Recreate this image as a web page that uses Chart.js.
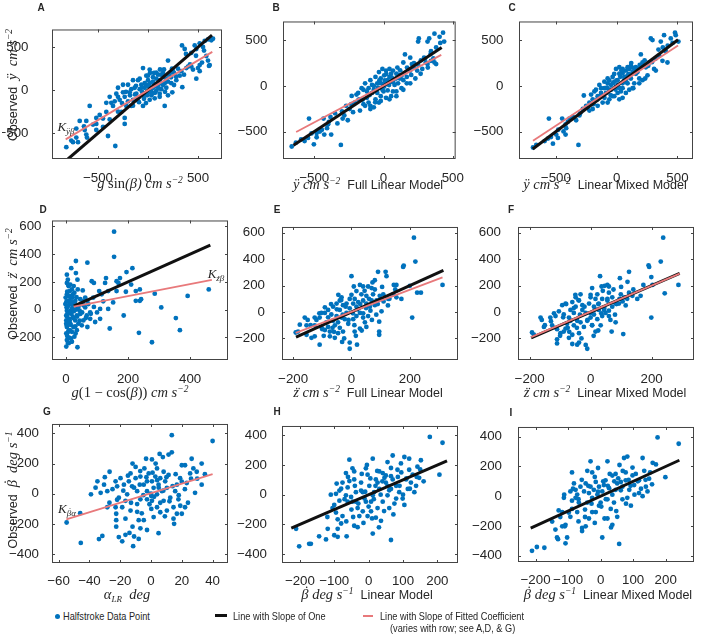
<!DOCTYPE html>
<html>
<head>
<meta charset="utf-8">
<script src="https://cdn.jsdelivr.net/npm/chart.js@4.4.0/dist/chart.umd.min.js"></script>
<style>
body { margin: 0; background: #fff; }
#fig { position: relative; width: 716px; height: 641px; overflow: hidden; font-family: "Liberation Sans", Arial, sans-serif; color: #262626; }
canvas { position: absolute; }
.t { position: absolute; transform: translate(-50%, -50%); white-space: nowrap; font-size: 12.5px; z-index: 5; }
.yl { position: absolute; transform: translate(-50%, -50%) rotate(-90deg); white-space: nowrap; font-size: 12.5px; z-index: 5; }
.m { font-family: "Liberation Serif", "Times New Roman", serif; font-style: italic; font-size: 14.5px; }
.up { font-style: normal; }
.acc { position: relative; display: inline-block; }
.acc > b { position: absolute; left: 0.12em; right: -0.12em; top: 0.02em; text-align: center; font-weight: normal; font-style: normal; }
.acc.tall > b { top: -0.2em; }
.lt { position: absolute; transform: translate(-50%, -50%); font-weight: bold; font-size: 10px; z-index: 5; }
sup { font-size: 9.5px; vertical-align: 5px; line-height: 0; }
sub { font-size: 9px; vertical-align: -3px; line-height: 0; }
.lg { position: absolute; transform: translateY(-50%) scaleX(0.8); transform-origin: left center; white-space: nowrap; font-size: 11.5px; z-index: 5; }
.mk { position: absolute; z-index: 5; }
</style>
</head>
<body>
<div id="fig"></div>
<script>
// tick values
const ticks500 = [-500, 0, 500];
const ticksZ_y = [-200, 0, 200, 400, 600];
const ticksD_x = [0, 200, 400];
const ticksEF_x = [-200, 0, 200];
const ticksB_y = [-400, -200, 0, 200, 400];
const ticksG_x = [-60, -40, -20, 0, 20, 40];
const ticksHI_x = [-200, -100, 0, 100, 200];

// Row 1 - lateral acceleration (x = predictor, y = observed)
const ptsA = [[340,520],[367,478],[467,520],[517,544],[567,572],[600,590],[633,580],[650,597],[483,477],[550,502],[433,432],[200,344],[250,221],[333,221],[383,256],[433,274],[500,256],[517,291],[583,397],[600,344],[617,291],[610,281],[483,133],[343,35],[317,168],[243,-25],[200,-60],[167,-183],[117,-42],[83,204],[17,239],[-50,256],[0,168],[-83,133],[-150,116],[-200,63],[-250,63],[-300,28],[-317,-42],[-383,-77],[-417,-147],[-367,-147],[-283,-112],[-233,-77],[-183,-25],[-117,-42],[-83,11],[-33,28],[17,81],[50,98],[83,133],[117,116],[150,151],[183,133],[167,81],[100,63],[50,28],[0,-25],[-50,-60],[-100,-95],[-150,-112],[-217,-183],[-267,-253],[-350,-183],[-417,-253],[-483,-288],[-517,-323],[-583,-183],[-517,-393],[-617,-358],[-683,-358],[-717,-446],[-633,-463],[-617,-516],[-700,-604],[-750,-604],[-767,-586],[-817,-663],[-717,-551],[-610,-551],[-517,-463],[-450,-428],[-383,-340],[-400,-533],[-327,-649],[-233,-393],[-233,-323],[-117,-112],[33,-60],[83,-7],[133,11],[183,28],[233,81],[283,116],[0,116],[50,151],[-33,81],[-67,63],[-133,28],[-167,11],[-250,-25],[-300,-77],[-333,-130],[-167,-183],[-50,-183],[17,-112],[67,-95],[117,-77],[-17,168],[-100,116],[400,274],[450,239],[517,221],[100,180],[150,200],[200,180],[230,150],[120,240],[60,200],[-20,60],[30,-10],[-60,-20],[260,60],
  [-200,-130],[-180,-60],[-130,-50],[-90,-140],[-60,30],[-40,-100],[-10,-60],[10,40],[40,-40],[60,70],[70,-30],[90,40],[110,20],[130,80],[150,60],[170,-20],[200,100],[220,200],[260,200],[280,160],[300,250],[-260,-150],[-220,-20],[-150,-180],[-120,50],[-20,-150],[20,200],[130,180],[160,240],[240,250],[360,180],[420,300],[-300,-250],[-450,-330],[-550,-400],[-640,-420],[380,420],[480,400],[560,460],[540,320]];
const ptsB = [[-663,-663],[-633,-621],[-595,-586],[-570,-604],[-545,-569],[-538,-358],[-503,-639],[-483,-562],[-483,-516],[-445,-481],[-433,-358],[-428,-533],[-408,-463],[-395,-393],[-378,-533],[-383,-340],[-333,-411],[-308,-646],[-295,-358],[-283,-323],[-258,-376],[-245,-253],[-220,-288],[-208,-183],[-195,-95],[-170,-147],[-145,-200],[-133,-218],[-120,-130],[-108,-183],[-95,-218],[-83,-77],[-70,-42],[-58,-147],[-45,-77],[-33,-183],[-20,-112],[-8,-42],[5,-7],[18,28],[30,63],[43,98],[55,133],[68,168],[93,133],[118,81],[143,63],[168,98],[155,344],[193,168],[218,204],[243,168],[268,133],[280,186],[318,239],[343,274],[368,256],[293,309],[255,520],[250,485],[318,485],[330,520],[368,572],[405,537],[430,583],[438,485],[380,239],[343,379],[305,256],[168,28],[130,-25],[93,-60],[55,-112],[18,-130],[-20,-165],[43,-147],[93,-112],[143,-42],[80,11],[55,46],[5,116],[-20,81],[-45,28],[-83,11],[-108,-25],[-145,-42],[-183,-77],[-8,186],[18,168],[43,186],[-33,151],[-58,98],[-95,63],[-133,28],[-158,-25],[-70,-235],[-95,-253],[-170,-270],[-233,-200],[-270,-218],[68,-60],[105,28],[193,28],[230,81],[205,239],[143,256],[193,309],
  [-150,-150],[-120,-60],[-100,-100],[-60,-180],[-40,-20],[-20,30],[0,-60],[10,60],[30,-50],[40,10],[60,90],[70,40],[90,80],[110,120],[120,170],[130,110],[150,140],[170,200],[200,120],[220,250],[250,230],[270,280],[300,300],[320,200],[-180,-150],[-230,-110],[-300,-280],[-350,-300],[-400,-420],[-460,-500],[-520,-520],[340,350],[360,300],[380,420],[410,470],[-30,60],[20,130],[100,200],[-70,0],[0,20]];
const ptsC = [[-688,-674],[-661,-646],[-592,-604],[-565,-576],[-557,-358],[-524,-632],[-497,-533],[-483,-569],[-448,-358],[-437,-498],[-420,-533],[-415,-463],[-401,-393],[-388,-358],[-333,-376],[-314,-646],[-306,-323],[-278,-253],[-270,-105],[-251,-218],[-224,-183],[-210,-95],[-197,-147],[-183,-60],[-156,-112],[-142,11],[-128,-77],[-101,-25],[-87,-77],[-74,28],[-60,-42],[-46,11],[-33,98],[-33,-112],[-19,46],[-5,-7],[8,63],[22,133],[35,-60],[49,28],[63,98],[76,168],[90,116],[104,186],[117,81],[131,151],[145,28],[158,133],[172,186],[186,81],[199,344],[213,256],[240,204],[254,116],[268,256],[281,520],[295,502],[322,168],[344,397],[363,485],[390,555],[418,256],[404,379],[377,274],[445,520],[480,583],[486,555],[508,485],[137,-25],[104,-42],[76,-77],[49,-130],[22,-147],[8,-77],[-19,-112],[-60,-147],[-74,-183],[-115,-183],[-156,-218],[-197,-253],[-224,-270],[-5,186],[22,204],[49,186],[90,204],[117,221],[158,204],[186,28],[213,63],[235,81],[-74,81],[-101,46],[-128,-25],[-170,-42],[-46,-42],[49,-25],[90,28],[131,-25],[308,186],
  [-160,-150],[-130,-110],[-100,-130],[-80,-20],[-50,-100],[-30,30],[-10,-40],[0,60],[20,-20],[30,100],[50,140],[60,60],[80,40],[100,130],[110,90],[130,200],[150,170],[170,150],[190,230],[210,210],[230,280],[260,220],[290,260],[320,300],[-190,-200],[-240,-240],[-300,-300],[-360,-340],[-420,-420],[-480,-480],[-540,-560],[350,330],[380,420],[420,440],[460,470],[-20,130],[40,170],[120,250],[-60,60],[10,10]];

// Row 2 - vertical acceleration
const ptsD = [[155,562],[155,381],[32,351],[69,339],[17,299],[32,264],[3,252],[37,216],[3,193],[83,205],[90,193],[129,228],[163,205],[169,193],[174,228],[195,271],[214,299],[210,181],[163,134],[126,193],[107,134],[193,129],[225,134],[238,146],[225,64],[238,64],[242,75],[286,115],[307,16],[354,-61],[367,-148],[392,99],[460,146],[235,-167],[277,-235],[186,-42],[141,-136],[110,-66],[94,-89],[78,-66],[69,-125],[56,64],[46,75],[62,87],[88,87],[115,111],[136,134],[136,5],[152,52],[110,5],[62,16],[44,-7],[35,-42],[30,-78],[40,-101],[35,-148],[37,-271],[27,-195],[19,-160],[9,-242],[3,-219],[1,-172],[3,-125],[1,-78],[5,-31],[2,16],[9,64],[3,111],[12,134],[14,87],[19,40],[16,-7],[22,-54],[14,-101],[9,-148],[16,-207],[24,-125],[30,64],[27,122],[19,146],[9,169],[6,216],[46,-31],[56,-78],[51,-113],[67,-42],[78,-19],[3,-7],[1,-42],[11,-66],[18,-31],[6,-89],[1,-266],[10,-201],[19,-231],[31,-172],[-2,40],[-1,87],[12,40],[21,87],[35,28],[51,40],[69,64],[14,181],[38,146],[54,139],
  [2,-110],[4,-190],[6,-30],[8,30],[10,100],[12,-80],[14,-150],[16,60],[18,-230],[20,10],[22,110],[24,-60],[26,-10],[28,50],[30,-120],[32,0],[34,90],[36,-50],[40,20],[44,-80],[48,40],[52,-20],[58,30],[64,-60],[72,40],[80,-30],[90,20],[100,-20],[120,60],[2,60],[4,130],[6,-240],[8,-160],[3,-50],[5,20],[7,180],[1,-100],[11,-20],[15,-110],[25,170]];
const ptsE = [[214,562],[219,381],[177,341],[179,351],[91,304],[117,304],[120,271],[0,271],[145,205],[154,205],[80,240],[72,224],[57,193],[40,193],[8,193],[200,198],[225,146],[238,146],[312,205],[208,-42],[103,5],[95,-73],[95,-148],[95,-172],[19,-247],[-6,-231],[-32,-226],[-6,-278],[-109,-247],[-154,-172],[-137,-195],[-126,-184],[-183,-148],[-191,-155],[-160,-42],[-154,-101],[-126,-101],[-109,-42],[-103,-7],[-91,35],[-86,-78],[-74,-148],[-69,-19],[-63,40],[-51,64],[-40,87],[-34,111],[-17,64],[-17,-7],[-6,28],[6,64],[11,99],[23,75],[34,134],[40,87],[51,122],[63,40],[69,87],[74,134],[86,87],[97,122],[109,134],[126,99],[143,134],[154,111],[171,99],[-40,16],[-51,-31],[-63,-66],[-80,-113],[-91,-136],[-103,-113],[-57,-101],[-46,-78],[-34,-42],[-23,-54],[-11,-89],[6,-54],[17,-31],[29,-7],[40,-42],[46,-78],[51,-113],[57,-31],[29,-125],[11,-148],[-29,-148],[-46,-160],[-74,-184],[-57,-195],[-91,-7],[-126,-42],[-80,16],[-29,52],[-6,99],[17,158],[29,205],[69,181],[51,64],[80,52],[17,40],[-177,-96],
  [-120,-60],[-100,-130],[-80,-40],[-70,60],[-60,-150],[-50,20],[-40,-120],[-30,-20],[-20,40],[-10,-60],[0,130],[10,-100],[20,20],[30,60],[40,-10],[50,30],[60,100],[70,-60],[80,170],[90,60],[100,100],[110,80],[130,100],[150,170],[-140,-100],[-150,-60],[-110,-10],[-95,-180],[-45,130],[-25,-200],[15,-180],[35,-140],[45,160],[65,10],[85,-20],[105,190],[125,50],[-65,-120],[-35,90],[5,-10]];
const ptsF = [[238,562],[230,381],[190,353],[192,341],[126,304],[96,256],[121,228],[31,271],[36,193],[46,198],[55,205],[173,205],[199,264],[203,205],[288,205],[243,141],[199,-42],[107,-167],[69,-148],[82,-78],[-11,-278],[-16,-249],[-44,-247],[-38,-231],[-60,-242],[-110,-207],[-110,-238],[-186,-172],[-192,-155],[-164,-42],[-153,-113],[-126,-101],[-115,-31],[-104,5],[-93,52],[-82,64],[-82,-125],[-71,-42],[-66,16],[-60,75],[-49,111],[-38,87],[-33,134],[-27,52],[-16,-7],[-5,64],[0,111],[5,181],[11,40],[16,99],[22,134],[27,64],[38,99],[44,16],[55,87],[60,146],[71,111],[82,64],[99,134],[110,111],[126,146],[137,122],[153,99],[164,122],[-55,-7],[-66,-66],[-77,-89],[-88,-148],[-99,-160],[-55,-101],[-44,-66],[-33,-78],[-22,-113],[-11,-66],[0,-42],[11,-19],[22,-54],[33,-101],[38,-31],[49,-7],[60,-31],[-38,-160],[-60,-172],[-71,-195],[16,-148],[-27,16],[-49,40],[-88,-19],[-132,-42],[5,-101],[27,16],[71,40],[93,64],[60,193],
  [-130,-70],[-110,-130],[-90,-40],[-80,60],[-70,-150],[-55,30],[-45,-120],[-35,-20],[-20,40],[-10,-60],[0,130],[5,-100],[15,20],[25,60],[35,-10],[45,30],[55,100],[65,-60],[75,170],[85,60],[95,100],[105,80],[120,100],[140,170],[-150,-100],[-160,-60],[-120,-10],[-100,-180],[-50,130],[-30,-200],[10,-180],[25,-140],[40,160],[60,10],[80,-20],[100,190],[115,50],[-75,-120],[-40,90],[0,-10]];

// Row 3 - yaw rate
const ptsG = [[40,350],[13.5,389],[13.5,275],[11.4,260],[5.6,264],[7.7,243],[-3.2,232],[0.6,228],[-26.9,146],[-34.8,82],[-39,-4],[-30.5,60],[-32.7,6],[-28.4,17],[-23,82],[-22,49],[-20.9,-26],[-23,-90],[-28.4,-90],[-22.6,-133],[-22.6,-176],[-22.6,-219],[-20.9,-288],[-18.7,-316],[-16.6,-273],[-16.6,-166],[-13.3,-112],[-12,-219],[-11,-284],[-11.6,-348],[-31.6,-280],[-33.8,-301],[-45.6,-327],[-46,-129],[-54.8,-191],[-9,-69],[-8,-176],[-6.9,-230],[-4.7,-176],[-2.6,-241],[4.9,-262],[-9,17],[-10,103],[-10,178],[-6.9,114],[-4.7,60],[-2.6,82],[-1.5,135],[0.6,82],[1.7,39],[2.8,114],[3.9,-4],[4.9,60],[6,103],[7.1,17],[8.2,-47],[9.2,82],[10.3,39],[11.4,125],[12.5,-26],[14.6,-90],[16.8,60],[15.7,17],[18.9,103],[20,189],[22.1,189],[23.2,71],[25.4,135],[26.4,232],[27.5,168],[28.6,6],[29.7,146],[32.9,200],[32.9,60],[16.8,-133],[14.6,-166],[22.1,-90],[17.8,-37],[10.3,-112],[3.9,-90],[0.6,-47],[-2.6,-37],[-6.9,-37],[-15.5,-4],[-17.6,60],[-19.8,103],[-14.4,82],[-13.3,135],[-12.3,49],[-16.6,-47],[-18.7,-90],[0.2,-101],[6,-123],[1.7,-155],[20,-133],[-2.6,17],[0.2,-15],[3.9,168],[8.2,146],[-4.3,168],[-7.3,60],
  [-18,20],[-15,120],[-13,-60],[-11,40],[-9,-120],[-7,150],[-5,-10],[-3,110],[-1,-70],[1,140],[2,-20],[4,90],[6,-60],[8,20],[10,110],[12,-50],[14,50],[16,130],[18,-10],[20,80],[22,30],[24,-60],[26,100],[-22,-40],[-25,30],[-27,-60],[-12,200],[-6,-130],[3,200],[9,-150],[15,-200],[19,-80],[-14,-260],[-8,-300],[30,100],[35,130],[-36,40],[-30,110],[0,0],[5,40]];
const ptsH = [[178,389],[215,350],[-211,-230],[-202,-348],[-173,-331],[-168,-331],[-144,-280],[-124,-301],[-100,-273],[-90,-284],[-64,-280],[-119,-230],[-90,-230],[-90,-166],[-80,-194],[-105,-90],[-100,-69],[-95,6],[-85,28],[-93,75],[-66,-4],[-56,92],[-56,236],[-47,178],[-42,157],[-47,-47],[-37,17],[-32,-90],[-27,-144],[-32,-219],[-42,-209],[-17,-112],[-12,-26],[-8,178],[-3,135],[2,60],[7,-47],[12,243],[12,-262],[16,17],[21,103],[26,-90],[31,39],[36,-176],[41,146],[50,82],[55,-4],[60,-90],[65,125],[70,264],[72,-133],[65,-305],[80,60],[84,168],[94,211],[99,-26],[104,-69],[109,103],[114,39],[118,168],[123,82],[128,135],[133,17],[138,60],[142,189],[147,114],[118,243],[104,254],[206,135],[152,232],[-66,146],[-76,82],[-61,49],[-51,-15],[-22,82],[-17,17],[-8,-47],[7,-112],[21,-155],[41,-47],[55,60],[70,103],[80,-26],[89,17],[12,-4],[-22,28],[-42,103],[-37,-47],[-61,-47],[-76,-144],[-3,-144],[26,82],[46,114],[65,39],[31,157],
  [-80,40],[-70,-30],[-60,120],[-50,-100],[-40,60],[-30,-60],[-20,140],[-10,20],[0,-80],[5,110],[15,-30],[20,60],[25,160],[35,0],[40,90],[45,-110],[50,130],[60,30],[65,180],[75,-60],[85,120],[90,60],[95,150],[100,0],[110,110],[120,40],[-95,-120],[-85,-40],[-65,-180],[-45,-150],[-15,-190],[10,-160],[30,-220],[-110,0],[-120,-150],[140,120],[150,170],[160,90],[-5,200],[55,220]];
const ptsI = [[175,396],[240,353],[-211,-368],[-196,-342],[-173,-347],[-134,-278],[-131,-289],[-108,-317],[-103,-278],[-110,-203],[-108,-193],[-139,-225],[-118,-107],[-129,-96],[-113,-11],[-88,160],[-77,43],[-77,-11],[-67,-43],[-57,-214],[-57,-235],[-46,-203],[-36,-150],[-31,235],[-26,160],[-15,96],[-15,-107],[5,-278],[15,107],[21,235],[36,139],[46,43],[51,-139],[57,-321],[62,96],[72,257],[82,267],[82,-11],[93,-64],[98,193],[108,150],[118,107],[129,257],[134,171],[139,64],[149,118],[160,225],[170,214],[199,128],[-93,32],[-82,86],[-72,11],[-62,64],[-51,32],[-46,86],[-41,-43],[-36,21],[-31,64],[-26,-11],[-21,43],[-10,11],[-5,64],[0,-43],[5,32],[10,75],[21,-21],[26,54],[31,-86],[41,-43],[51,86],[67,64],[77,107],[88,43],[103,75],[118,21],[129,0],[144,32],[-88,-86],[-93,-139],[-72,-107],[-26,-107],[-5,-64],[21,-150],[36,-193],[67,-21],[-118,-203],[-149,-171],[-41,171],[46,150],[77,160],
  [-85,50],[-68,-20],[-58,110],[-48,-90],[-38,70],[-28,-50],[-18,130],[-8,30],[2,-70],[8,100],[16,-20],[22,70],[28,150],[36,10],[42,100],[48,-100],[54,120],[62,40],[68,170],[78,-50],[86,110],[92,70],[98,140],[104,10],[114,100],[124,50],[-98,-110],[-88,-30],[-68,-170],[-48,-140],[-18,-180],[12,-150],[32,-210],[-112,10],[-124,-140],[138,110],[152,160],[158,80],[-8,190],[58,210]];

// reference lines: slope of one (black) and fitted coefficient (red)
const oneA = [[-800,-800],[640,640]], fitA = [[-823,-572],[643,445]];
const oneB = [[-650,-650],[420,420]], fitB = [[-631,-505],[417,340]];
const oneC = [[-690,-690],[505,505]], fitC = [[-688,-600],[505,442]];
const oneD = [[25,25],[465,465]],     fitD = [[25,22],[470,215]];
const oneE = [[-190,-190],[315,315]], fitE = [[-191,-158],[312,262]];
const oneF = [[-195,-195],[292,292]], fitF = [[-195,-190],[292,290]];
const fitG = [[-55,-171],[40,130]];
const oneH = [[-225,-225],[228,228]];
const oneI = [[-215,-215],[242,242]];

const BLUE = '#0072BD', RED = '#E8797B', INK = '#262626';
const L = 50, T = 10, R = 10, B = 24;

// box = [left, top, right, bottom] of plot area in page pixels
const panels = [
  { box: [52, 16, 222, 159],  xr: [-960, 740], yr: [-800, 705], xt: ticks500,   yt: ticks500, pts: ptsA, one: oneA, fit: fitA, padX: 3, padY: 15.5 },
  { box: [283, 16, 457, 159], xr: [-726, 521], yr: [-800, 705], xt: ticks500,   yt: ticks500, pts: ptsB, one: oneB, fit: fitB, padX: 3, padY: 7.5 },
  { box: [519, 16, 693, 159], xr: [-803, 628], yr: [-800, 705], xt: ticks500,   yt: ticks500, pts: ptsC, one: oneC, fit: fitC, padX: 3, padY: 7.5 },
  { box: [52, 220, 228, 360], xr: [-45, 522],  yr: [-363, 643], xt: ticksD_x,   yt: ticksZ_y, pts: ptsD, one: oneD, fit: fitD, padX: 3.7, padY: 2.5 },
  { box: [282, 220, 458, 360], xr: [-238, 365], yr: [-363, 643], xt: ticksEF_x, yt: ticksZ_y, pts: ptsE, one: oneE, fit: fitE, padX: 3.7, padY: 9 },
  { box: [518, 220, 694, 360], xr: [-238, 339], yr: [-363, 643], xt: ticksEF_x, yt: ticksZ_y, pts: ptsF, one: oneF, fit: fitF, padX: 3.7, padY: 9 },
  { box: [52, 421, 228, 563], xr: [-64.3, 50], yr: [-460, 463], xt: ticksG_x,   yt: ticksB_y, pts: ptsG, one: null, fit: fitG, padX: 2, padY: 5 },
  { box: [282, 421, 458, 563], xr: [-252, 260], yr: [-460, 463], xt: ticksHI_x, yt: ticksB_y, pts: ptsH, one: oneH, fit: null, padX: 2, padY: 7 },
  { box: [518, 421, 694, 562], xr: [-254, 287], yr: [-443, 466], xt: ticksHI_x, yt: ticksB_y, pts: ptsI, one: oneI, fit: null, padX: 2, padY: 8 }
];

// box with inward ticks on all four sides, like the original
const boxPlugin = {
  id: 'box',
  afterDraw(chart) {
    const { ctx, chartArea: a, scales: { x, y } } = chart;
    ctx.save();
    ctx.strokeStyle = '#444';
    ctx.lineWidth = 1;
    ctx.strokeRect(a.left + 0.5, a.top + 0.5, a.right - a.left - 1, a.bottom - a.top - 1);
    ctx.beginPath();
    x.ticks.forEach(t => {
      const p = Math.round(x.getPixelForValue(t.value)) + 0.5;
      ctx.moveTo(p, a.bottom); ctx.lineTo(p, a.bottom - 3);
      ctx.moveTo(p, a.top); ctx.lineTo(p, a.top + 3);
    });
    y.ticks.forEach(t => {
      const p = Math.round(y.getPixelForValue(t.value)) + 0.5;
      ctx.moveTo(a.left, p); ctx.lineTo(a.left + 3, p);
      ctx.moveTo(a.right, p); ctx.lineTo(a.right - 3, p);
    });
    ctx.stroke();
    ctx.restore();
  }
};

const toXY = arr => arr.map(([x, y]) => ({ x, y }));
const fmt = v => String(v).replace('-', '\u2212');
const fig = document.getElementById('fig');

panels.forEach(p => {
  const [l, t, r, b] = p.box;
  const c = document.createElement('canvas');
  c.width = (r - l) + L + R;
  c.height = (b - t) + T + B;
  c.style.left = (l - L) + 'px';
  c.style.top = (t - T) + 'px';
  fig.appendChild(c);

  const datasets = [{ data: toXY(p.pts), pointRadius: 2.4, pointHoverRadius: 2.4, backgroundColor: BLUE, borderWidth: 0, order: 3 }];
  if (p.one) datasets.push({ data: toXY(p.one), showLine: true, pointRadius: 0, borderColor: '#111', borderWidth: 3, clip: 0, order: 2 });
  if (p.fit) datasets.push({ data: toXY(p.fit), showLine: true, pointRadius: 0, borderColor: RED, borderWidth: 1.8, clip: 0, order: 1 });

  const tickFont = { family: '"Liberation Sans", Arial, sans-serif', size: 13.3 };
  new Chart(c, {
    type: 'scatter',
    data: { datasets },
    options: {
      responsive: false,
      animation: false,
      devicePixelRatio: 1,
      layout: { padding: { top: T, right: R, left: 0, bottom: 0 } },
      plugins: { legend: { display: false }, tooltip: { enabled: false } },
      scales: {
        x: {
          type: 'linear', min: p.xr[0], max: p.xr[1],
          grid: { display: false }, border: { display: false },
          ticks: { color: INK, font: tickFont, padding: p.padX, autoSkip: false, maxRotation: 0, callback: fmt },
          afterBuildTicks: s => { s.ticks = p.xt.map(v => ({ value: v })); },
          afterFit: s => { s.height = B; }
        },
        y: {
          type: 'linear', min: p.yr[0], max: p.yr[1],
          grid: { display: false }, border: { display: false },
          ticks: { color: INK, font: tickFont, padding: p.padY, autoSkip: false, callback: fmt },
          afterBuildTicks: s => { s.ticks = p.yt.map(v => ({ value: v })); },
          afterFit: s => { s.width = L; }
        }
      }
    },
    plugins: [boxPlugin]
  });
});

// accented symbols: y double dot, z double dot, beta dot
const YDD = '\u00ff';
const ZDD = '<span class="acc">z<b>\u00a8</b></span>';
const BD = '<span class="acc tall">\u03b2<b>\u02d9</b></span>';

// text: panel letters, axis titles, annotations, legend
const texts = [
  ['lt', 41, 7, 'A'], ['lt', 276, 7, 'B'], ['lt', 512, 7, 'C'],
  ['lt', 43, 209, 'D'], ['lt', 277, 209, 'E'], ['lt', 511, 209, 'F'],
  ['lt', 47, 411, 'G'], ['lt', 277, 411, 'H'], ['lt', 511, 412, 'I'],
  ['yl', 12, 85, 'Observed&nbsp;&nbsp;<span class="m">' + YDD + '&nbsp;&nbsp;cm&nbsp;s<sup>\u22122</sup></span>'],
  ['yl', 12, 284, 'Observed&nbsp;&nbsp;<span class="m">' + ZDD + '&nbsp;&nbsp;cm&nbsp;s<sup>\u22122</sup></span>'],
  ['yl', 12, 490, 'Observed&nbsp;&nbsp;<span class="m">' + BD + '&nbsp;&nbsp;deg&nbsp;s<sup>\u22121</sup></span>'],
  ['t', 140, 183, '<span class="m">g <span class="up">sin</span>(\u03b2) cm s<sup>\u22122</sup></span>'],
  ['t', 368, 184, '<span class="m">' + YDD + ' cm s<sup>\u22122</sup></span>&nbsp; Full Linear Model'],
  ['t', 605, 184, '<span class="m">' + YDD + ' cm s<sup>\u22122</sup></span>&nbsp; Linear Mixed Model'],
  ['t', 130, 392, '<span class="m">g<span class="up">(1 \u2212 cos(</span>\u03b2<span class="up">))</span> cm s<sup>\u22122</sup></span>'],
  ['t', 368, 392, '<span class="m">' + ZDD + ' cm s<sup>\u22122</sup></span>&nbsp; Full Linear Model'],
  ['t', 605, 392, '<span class="m">' + ZDD + ' cm s<sup>\u22122</sup></span>&nbsp; Linear Mixed Model'],
  ['t', 127, 594, '<span class="m">\u03b1<sub>LR</sub>&nbsp; deg</span>'],
  ['t', 367, 594, '<span class="m">' + BD + ' deg s<sup>\u22121</sup></span>&nbsp; Linear Model'],
  ['t', 608, 594, '<span class="m">' + BD + ' deg s<sup>\u22121</sup></span>&nbsp; Linear Mixed Model'],
  ['t', 66, 127, '<span class="m" style="font-size:13px">K<sub>' + YDD + '\u03b2</sub></span>'],
  ['t', 216, 274, '<span class="m" style="font-size:13px">K<sub>' + ZDD + '\u03b2</sub></span>'],
  ['t', 67, 509, '<span class="m" style="font-size:13px">K<sub>' + BD + '\u03b1</sub></span>']
];
texts.forEach(([cls, x, y, html]) => {
  const d = document.createElement('div');
  d.className = cls;
  d.style.left = x + 'px';
  d.style.top = y + 'px';
  d.innerHTML = html;
  fig.appendChild(d);
});

const legend = [
  [63, 616, 'Halfstroke Data Point'],
  [233, 616, 'Line with Slope of One'],
  [380, 616, 'Line with Slope of Fitted Coefficient'],
  [390, 628, '(varies with row; see A,D, &amp; G)']
];
legend.forEach(([x, y, txt]) => {
  const d = document.createElement('div');
  d.className = 'lg';
  d.style.left = x + 'px';
  d.style.top = y + 'px';
  d.innerHTML = txt;
  fig.appendChild(d);
});
const marks = [
  [55, 614, 5, 5, BLUE, '50%'],
  [215, 614, 12, 3, '#111', '0'],
  [363, 615, 10, 2, RED, '0']
];
marks.forEach(([x, y, w, h, col, rad]) => {
  const d = document.createElement('div');
  d.className = 'mk';
  Object.assign(d.style, { left: x + 'px', top: y + 'px', width: w + 'px', height: h + 'px', background: col, borderRadius: rad });
  fig.appendChild(d);
});
</script>
</body>
</html>
